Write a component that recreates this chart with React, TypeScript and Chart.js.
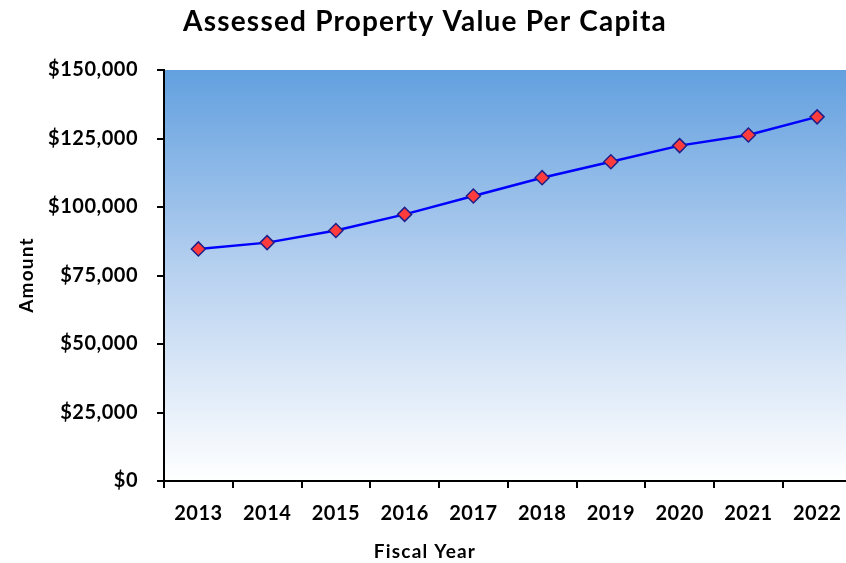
import React, { useEffect, useRef } from "react";
import { Chart, registerables } from "chart.js";

Chart.register(...registerables);

const TITLE = "Assessed Property Value Per Capita";
const X_TITLE = "Fiscal Year";
const Y_TITLE = "Amount";
const years = ["2013", "2014", "2015", "2016", "2017", "2018", "2019", "2020", "2021", "2022"];
const values = [84700, 87000, 91400, 97300, 104000, 110700, 116500, 122400, 126300, 132900];
const yTicks = [0, 25000, 50000, 75000, 100000, 125000, 150000];

const FONT = "Lato, 'Noto Sans', sans-serif";

export default function App() {
  const ref = useRef<HTMLCanvasElement | null>(null);

  useEffect(() => {
    document.body.style.margin = "0";
    const canvas = ref.current!;
    const W = 860;
    const H = 563;
    const plotLeft = 164;
    const plotTop = 70;
    const plotRight = 854;
    const plotBottom = 481;

    const bgPlugin = {
      id: "bg",
      beforeUpdate(chart: any) {
        chart.ctx.letterSpacing = "0.5px";
      },
      beforeDraw(chart: any) {
        const ctx = chart.ctx;
        ctx.letterSpacing = "0.5px";
        const a = chart.chartArea;
        ctx.save();
        ctx.fillStyle = "#ffffff";
        ctx.fillRect(0, 0, chart.width, chart.height);
        const g = ctx.createLinearGradient(0, a.top, 0, a.bottom);
        g.addColorStop(0, "rgb(98,160,223)");
        g.addColorStop(0.5, "rgb(185,210,240)");
        g.addColorStop(1, "rgb(255,255,255)");
        ctx.fillStyle = g;
        ctx.fillRect(a.left, a.top, a.right - a.left, a.bottom - a.top);
        ctx.restore();
      },
      afterDraw(chart: any) {
        const ctx = chart.ctx;
        ctx.save();
        ctx.fillStyle = "#000000";
        ctx.textAlign = "center";
        ctx.textBaseline = "alphabetic";
        ctx.font = `bold 28px ${FONT}`;
        ctx.letterSpacing = "1.2px";
        ctx.fillText(TITLE, 425, 31);
        ctx.font = `bold 19px ${FONT}`;
        ctx.letterSpacing = "1.2px";
        ctx.fillText(X_TITLE, 425, 558);
        ctx.translate(33, 275);
        ctx.rotate(-Math.PI / 2);
        ctx.fillText(Y_TITLE, 0, 0);
        ctx.restore();
      },
    };

    const chart = new Chart(canvas, {
      type: "line",
      data: {
        labels: years,
        datasets: [
          {
            data: values,
            borderColor: "#0000ff",
            borderWidth: 2.5,
            pointStyle: "rectRot",
            pointRadius: 7,
            pointBackgroundColor: "#ff3b3b",
            pointBorderColor: "#1f1f8a",
            pointBorderWidth: 1.5,
            tension: 0,
            fill: false,
          },
        ],
      },
      options: {
        animation: false,
        responsive: false,
        maintainAspectRatio: false,
        devicePixelRatio: 1,
        layout: { padding: { top: plotTop, right: W - plotRight, left: 0, bottom: 0 } },
        plugins: {
          legend: { display: false },
          tooltip: { enabled: false },
          title: { display: false },
        },
        scales: {
          x: {
            type: "category",
            offset: true,
            afterFit(scale: any) {
              scale.height = H - plotBottom;
            },
            grid: {
              offset: true,
              drawOnChartArea: false,
              drawTicks: true,
              tickLength: 7,
              color: "#000000",
              lineWidth: 2,
            },
            border: { display: true, color: "#000000", width: 2 },
            ticks: {
              color: "#000000",
              font: { family: FONT, size: 20, weight: "bold" },
              padding: 14,
              maxRotation: 0,
              autoSkip: false,
            },
          },
          y: {
            min: 0,
            max: 150000,
            afterFit(scale: any) {
              scale.width = plotLeft;
            },
            afterBuildTicks(scale: any) {
              scale.ticks = yTicks.map((v) => ({ value: v }));
            },
            grid: {
              drawOnChartArea: false,
              drawTicks: true,
              tickLength: 7,
              color: "#000000",
              lineWidth: 2,
            },
            border: { display: true, color: "#000000", width: 2 },
            ticks: {
              color: "#000000",
              font: { family: FONT, size: 20, weight: "bold" },
              padding: 19,
              callback: (v: any) => "$" + Number(v).toLocaleString("en-US"),
            },
          },
        },
      },
      plugins: [bgPlugin],
    });

    return () => chart.destroy();
  }, []);

  return (
    <div style={{ width: 846, height: 563, overflow: "hidden", position: "relative" }}>
      <canvas ref={ref} width={860} height={563} style={{ display: "block", width: 860, height: 563 }} />
    </div>
  );
}
